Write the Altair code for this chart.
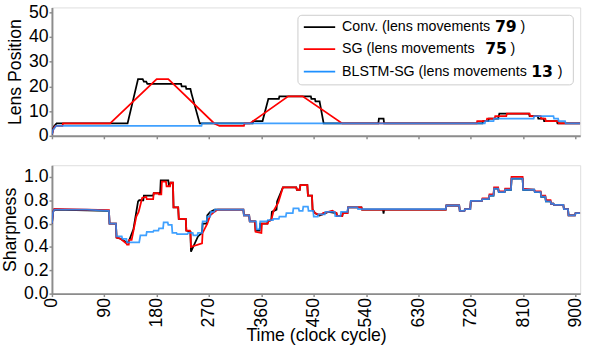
import altair as alt
import pandas as pd

# x axis ticks (clock cycles)
x_ticks = [0, 90, 180, 270, 360, 450, 540, 630, 720, 810, 900]
lens_ticks = [0, 10, 20, 30, 40, 50]
sharp_ticks = [0.0, 0.2, 0.4, 0.6, 0.8, 1.0]

methods = ["Conv.", "SG", "BLSTM-SG"]
lens_moves = ["79", "75", "13"]
colors = ["#000000", "#ff0000", "#1e90ff"]

# lens position: (clock cycle, position) vertices
conv_lens = [(0, 0.5), (2, 3), (4, 4), (8, 5), (130, 5), (148, 23), (156, 23), (158, 22), (162, 22),
             (164, 21), (222, 21), (223, 20), (230, 20), (231, 19), (238, 19), (240, 17), (254, 5),
             (345, 5), (346, 6), (362, 6), (372, 15), (390, 15), (391, 16), (445, 16), (446, 15),
             (452, 15), (453, 14), (460, 14), (467, 5), (561, 5), (562, 7), (570, 7), (571, 5),
             (740, 5), (741, 6), (750, 6), (751, 7), (767, 7), (768, 8), (769, 9), (820, 9),
             (821, 8), (835, 8), (836, 7), (845, 7), (846, 6), (868, 6), (869, 5), (908, 5)]
sg_lens = [(0, 0.5), (3, 3), (6, 4), (18, 4), (19, 5), (100, 5), (180, 23), (200, 23), (279, 5),
           (288, 4), (330, 4), (331, 5), (340, 5), (406, 16), (431, 16), (499, 5), (730, 5),
           (731, 6), (747, 6), (748, 7), (761, 7), (762, 8), (781, 8), (782, 9), (821, 9),
           (822, 8), (840, 8), (841, 7), (848, 7), (849, 6), (870, 6), (871, 5), (908, 5)]
blstm_lens = [(0, 0.5), (2, 2.5), (4, 3), (7, 4), (257, 4), (258, 5), (744, 5), (745, 6),
              (759, 6), (760, 7), (828, 7), (829, 8), (862, 8), (863, 7), (870, 7), (871, 6),
              (882, 6), (883, 5), (908, 5)]

# sharpness: (clock cycle, sharpness) vertices
conv_sharp = [(0, 0.6), (2, 0.7), (4, 0.72), (98, 0.71), (99, 0.6), (110, 0.6), (111, 0.48),
              (118, 0.47), (128, 0.44), (132, 0.44), (133, 0.46), (140, 0.55), (148, 0.79),
              (150, 0.8), (157, 0.8), (158, 0.84), (174, 0.84), (175, 0.86), (186, 0.86),
              (187, 0.97), (200, 0.97), (201, 0.93), (203, 0.93), (204, 0.95), (208, 0.95),
              (209, 0.74), (217, 0.74), (218, 0.64), (230, 0.64), (231, 0.54), (238, 0.53),
              (239, 0.36), (251, 0.49), (258, 0.52), (259, 0.6), (266, 0.6), (267, 0.67),
              (272, 0.7), (280, 0.72), (329, 0.72), (330, 0.67), (339, 0.67), (340, 0.62),
              (349, 0.62), (350, 0.54), (357, 0.54), (358, 0.6), (370, 0.6), (371, 0.62),
              (377, 0.63), (378, 0.7), (386, 0.72), (387, 0.79), (397, 0.91), (420, 0.91),
              (421, 0.89), (426, 0.89), (427, 0.93), (439, 0.93), (440, 0.84), (447, 0.84),
              (448, 0.72), (452, 0.69), (460, 0.67), (475, 0.7), (489, 0.69), (490, 0.665),
              (499, 0.665), (500, 0.69), (508, 0.69), (509, 0.74), (532, 0.74), (533, 0.72),
              (569, 0.72), (570, 0.685), (571, 0.72), (677, 0.72), (678, 0.755), (700, 0.755),
              (701, 0.71), (709, 0.71), (710, 0.725), (719, 0.725), (720, 0.795), (739, 0.795),
              (740, 0.81), (751, 0.81), (752, 0.84), (759, 0.84), (760, 0.9), (767, 0.9),
              (768, 0.87), (778, 0.87), (779, 0.89), (789, 0.89), (790, 0.985), (809, 0.985),
              (810, 0.89), (829, 0.89), (830, 0.87), (840, 0.87), (841, 0.83), (848, 0.83),
              (849, 0.79), (857, 0.79), (858, 0.77), (862, 0.77), (863, 0.76), (879, 0.76),
              (880, 0.725), (887, 0.725), (888, 0.67), (899, 0.67), (900, 0.69), (908, 0.69)]
sg_sharp = [(0, 0.6), (2, 0.7), (4, 0.725), (98, 0.715), (99, 0.6), (110, 0.6), (111, 0.48),
            (118, 0.47), (128, 0.43), (129, 0.42), (132, 0.42), (133, 0.46), (137, 0.46),
            (145, 0.66), (149, 0.7), (155, 0.82), (162, 0.83), (163, 0.81), (174, 0.81),
            (175, 0.86), (183, 0.86), (184, 0.85), (188, 0.85), (189, 0.96), (196, 0.96),
            (197, 0.92), (203, 0.92), (204, 0.95), (208, 0.95), (209, 0.74), (217, 0.74),
            (218, 0.64), (230, 0.64), (231, 0.54), (237, 0.54), (238, 0.53), (239, 0.4),
            (245, 0.41), (251, 0.42), (258, 0.43), (259, 0.52), (267, 0.6), (272, 0.67),
            (279, 0.7), (285, 0.72), (329, 0.72), (330, 0.67), (339, 0.67), (340, 0.62),
            (349, 0.62), (350, 0.53), (360, 0.52), (361, 0.6), (371, 0.6), (372, 0.62),
            (377, 0.63), (381, 0.71), (389, 0.78), (397, 0.91), (420, 0.91), (421, 0.89),
            (426, 0.89), (427, 0.93), (439, 0.93), (440, 0.84), (447, 0.84), (448, 0.72),
            (452, 0.69), (457, 0.68), (465, 0.68), (466, 0.69), (475, 0.7), (482, 0.71),
            (489, 0.69), (490, 0.665), (499, 0.665), (500, 0.69), (508, 0.69), (509, 0.74),
            (532, 0.74), (533, 0.72), (677, 0.72), (678, 0.755), (700, 0.755), (701, 0.71),
            (709, 0.71), (710, 0.725), (719, 0.725), (720, 0.795), (739, 0.795), (740, 0.815),
            (751, 0.815), (752, 0.85), (759, 0.85), (760, 0.91), (767, 0.91), (768, 0.875),
            (778, 0.875), (779, 0.9), (789, 0.9), (790, 1.0), (809, 1.0), (810, 0.9),
            (829, 0.89), (830, 0.875), (840, 0.875), (841, 0.84), (848, 0.84), (849, 0.8),
            (857, 0.8), (858, 0.77), (862, 0.77), (863, 0.76), (879, 0.76), (880, 0.725),
            (887, 0.725), (888, 0.67), (899, 0.67), (900, 0.69), (908, 0.69)]
blstm_sharp = [(0, 0.6), (2, 0.7), (4, 0.72), (60, 0.72), (98, 0.71), (99, 0.6), (110, 0.6),
               (111, 0.49), (120, 0.49), (121, 0.47), (128, 0.47), (129, 0.44), (150, 0.44),
               (152, 0.5), (162, 0.5), (163, 0.53), (174, 0.53), (175, 0.54), (183, 0.54),
               (184, 0.56), (191, 0.56), (192, 0.61), (199, 0.61), (200, 0.59), (206, 0.59),
               (207, 0.52), (214, 0.52), (215, 0.51), (233, 0.51), (234, 0.52), (242, 0.52),
               (243, 0.5), (250, 0.5), (251, 0.52), (258, 0.52), (259, 0.62), (266, 0.62),
               (267, 0.66), (272, 0.66), (273, 0.7), (279, 0.7), (280, 0.72), (329, 0.72),
               (330, 0.67), (339, 0.67), (340, 0.62), (351, 0.62), (352, 0.55), (357, 0.55),
               (358, 0.62), (370, 0.62), (371, 0.63), (380, 0.63), (381, 0.64), (390, 0.64),
               (391, 0.66), (402, 0.66), (403, 0.69), (414, 0.69), (415, 0.73), (424, 0.73),
               (425, 0.71), (431, 0.71), (432, 0.745), (440, 0.745), (441, 0.71), (449, 0.71),
               (450, 0.66), (457, 0.66), (458, 0.68), (469, 0.68), (470, 0.7), (486, 0.7),
               (487, 0.665), (496, 0.665), (497, 0.7), (508, 0.7), (509, 0.74), (525, 0.74),
               (526, 0.725), (677, 0.725), (678, 0.755), (700, 0.755), (701, 0.71), (709, 0.71),
               (710, 0.725), (719, 0.725), (720, 0.795), (739, 0.795), (740, 0.81), (751, 0.81),
               (752, 0.84), (759, 0.84), (760, 0.9), (767, 0.9), (768, 0.87), (778, 0.87),
               (779, 0.89), (789, 0.89), (790, 0.985), (809, 0.985), (810, 0.89), (829, 0.89),
               (830, 0.87), (840, 0.87), (841, 0.83), (848, 0.83), (849, 0.79), (857, 0.79),
               (858, 0.77), (862, 0.77), (863, 0.76), (879, 0.76), (880, 0.725), (887, 0.725),
               (888, 0.67), (899, 0.67), (900, 0.69), (908, 0.69)]

# legend layout in plot-area pixels
legend_rows_y = [20, 42.5, 65.5]
legend_num_x = [452, 442, 489]
legend_close_x = [478, 468, 516]

FONT = "Liberation Sans"
BOLD_FONT = "DejaVu Sans"
W, H = 539, 131

x_scale = alt.Scale(domain=[0, 908], nice=False, zero=False)


def frame(pts):
    return pd.DataFrame({"t": [p[0] for p in pts], "v": [p[1] for p in pts],
                         "i": list(range(len(pts)))})


def panel(series, y_scale, x_axis, y_axis):
    layers = []
    for pts, color, op in series:
        layers.append(
            alt.Chart(frame(pts)).mark_line(color=color, strokeWidth=1.8, opacity=op, clip=True)
            .encode(x=alt.X("t:Q", scale=x_scale, axis=x_axis),
                    y=alt.Y("v:Q", scale=y_scale, axis=y_axis),
                    order="i:Q")
        )
    return alt.layer(*layers)


common_axis = dict(domainColor="#8c8c8c", domainWidth=2, tickColor="#8c8c8c", tickWidth=1.5,
                   tickSize=3, grid=False, labelFlush=False, labelFont=FONT, labelFontSize=18,
                   labelColor="#000", titleFont=FONT, titleFontSize=18, titleFontWeight="normal",
                   titleColor="#000", labelPadding=1)

top_x_axis = alt.Axis(values=x_ticks, labels=False, title=None, **common_axis)
top_y_axis = alt.Axis(values=lens_ticks, title="Lens Position", titlePadding=4, **common_axis)
bot_x_axis = alt.Axis(values=x_ticks, labelAngle=-90, title="Time (clock cycle)",
                      titlePadding=0, **common_axis)
bot_y_axis = alt.Axis(values=sharp_ticks, format=".1f", title="Sharpness", titlePadding=4,
                      **common_axis)

lines_top = panel([(conv_lens, colors[0], 1.0), (sg_lens, colors[1], 1.0),
                   (blstm_lens, colors[2], 0.85)],
                  alt.Scale(domain=[0, 52], nice=False), top_x_axis, top_y_axis)

# legend box with line samples and labels
legend_df = pd.DataFrame({"method": methods, "num": lens_moves, "ly": legend_rows_y,
                          "nx": legend_num_x, "cx": legend_close_x, "color": colors,
                          "prefix": [m + " (lens movements" for m in methods]})

box = alt.Chart(pd.DataFrame({"k": [0]})).mark_rect(
    fill="white", fillOpacity=0.85, stroke="#cccccc", strokeWidth=1, cornerRadius=4
).encode(x=alt.value(251), x2=alt.value(532), y=alt.value(8), y2=alt.value(79))

sample = alt.Chart(legend_df).mark_rule(strokeWidth=1.8).encode(
    x=alt.value(257), x2=alt.value(289),
    y=alt.Y("ly:Q", scale=None),
    color=alt.Color("color:N", scale=None))

label_text = alt.Chart(legend_df).mark_text(
    align="left", baseline="middle", font=FONT, fontSize=14.5, color="#000"
).encode(x=alt.value(296), y=alt.Y("ly:Q", scale=None), text="prefix:N")

num_text = alt.Chart(legend_df).mark_text(
    align="left", baseline="middle", font=BOLD_FONT, fontWeight="bold", fontSize=16,
    color="#000"
).encode(x=alt.X("nx:Q", scale=None), y=alt.Y("ly:Q", scale=None), text="num:N")

close_text = alt.Chart(legend_df).mark_text(
    align="left", baseline="middle", font=FONT, fontSize=14.5, color="#000"
).encode(x=alt.X("cx:Q", scale=None), y=alt.Y("ly:Q", scale=None), text=alt.value(")"))

top = alt.layer(lines_top, box, sample, label_text, num_text, close_text).properties(
    width=W, height=H)

bottom = panel([(conv_sharp, colors[0], 1.0), (sg_sharp, colors[1], 1.0),
                (blstm_sharp, colors[2], 0.85)],
               alt.Scale(domain=[0, 1.1], nice=False), bot_x_axis, bot_y_axis).properties(
    width=W, height=H)

chart = alt.vconcat(top, bottom, spacing=19).configure_view(stroke=None).configure(
    background="white").properties(padding={"left": 1, "top": -1, "right": 5, "bottom": 5})

chart.save("out.html", embed_options={"renderer": "svg", "actions": False})
